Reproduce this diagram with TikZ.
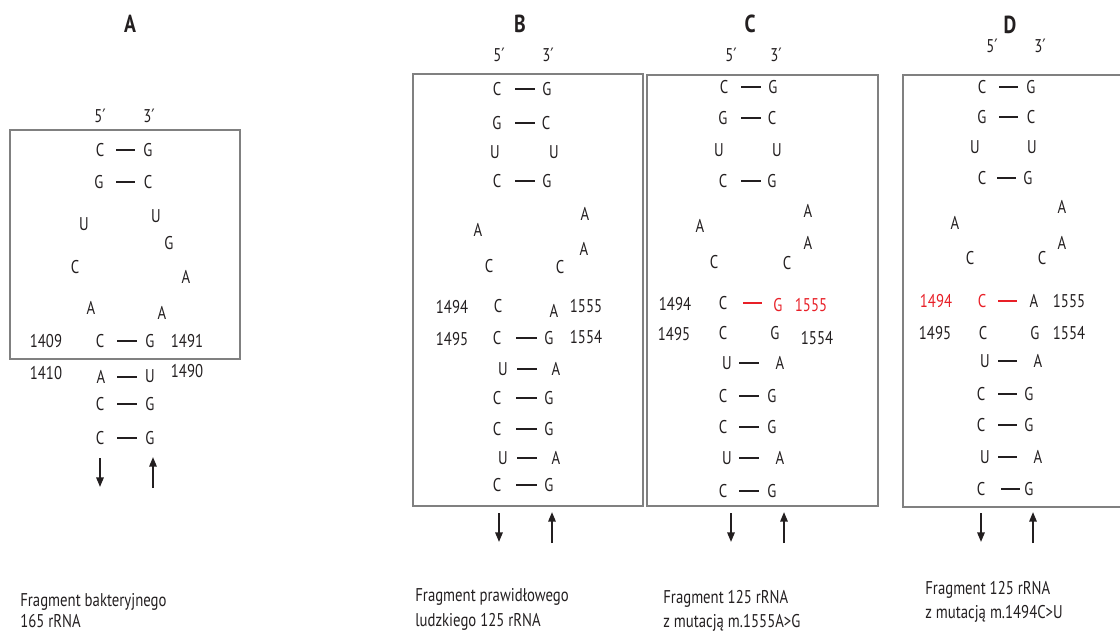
\documentclass[tikz,border=0pt]{standalone}
\usepackage{fontspec}
\setmainfont{PT Sans}[FakeStretch=0.8]
\newfontfamily\primefont{DejaVu Sans}[FakeStretch=0.8]
\usetikzlibrary{arrows.meta,calc}
\definecolor{boxgray}{RGB}{128,128,128}
\definecolor{mutred}{RGB}{232,32,40}
\definecolor{ink}{RGB}{35,31,32}
% strand-end labels with a prime
\newcommand\pr{{\primefont ′}}
% letter / label node
\newcommand\nt[5][]{\node[nt,#1] (#2) at (#3,#4) {#5};}
% base-pair bar between two letters: offsets from left centre and right centre
\newcommand\pairbar[5][]{\draw[bp,#1] ($(#2)+(#4,0)$) -- ($(#2 -| #3)+(#5,0)$);}
% strand direction arrows below a stem
\newcommand\strands[4]{%
  \coordinate (#1-d0) at (#2,#4); \coordinate (#1-d1) at (#2,#4+29);
  \coordinate (#1-u0) at (#3,#4+30); \coordinate (#1-u1) at (#3,#4-1);
  \draw[strand] (#1-d0) -- (#1-d1);
  \draw[strand] (#1-u0) -- (#1-u1);}
\begin{document}
\begin{tikzpicture}[x=0.02cm,y=-0.02cm,
  nt/.style={inner sep=0pt,text=ink,font=\fontsize{10.5}{12}\selectfont},
  ttl/.style={inner sep=0pt,text=ink,font=\bfseries\fontsize{14}{16}\selectfont},
  mut/.style={text=mutred},
  bp/.style={line width=1.5pt,draw=ink},
  strand/.style={line width=1.1pt,draw=ink,-{Triangle[length=5.5pt,width=4.2pt]}},
  frame/.style={draw=boxgray,line width=0.9pt},
  capt/.style={inner sep=0pt,anchor=base west,text=ink,font=\fontsize{10.5}{12}\selectfont}]
\useasboundingbox (0,0) rectangle (1120,630);

% ---------------- A: bacterial 16S fragment ----------------
\nt[ttl]{A-t}{130}{24}{A}
\nt{A-5}{100}{116}{5\pr}
\nt{A-3}{149}{116}{3\pr}
\draw[frame] (10,130) rectangle (240,359);
\nt{A1l}{100}{150}{C} \nt{A1r}{148}{150}{G} \pairbar{A1l}{A1r}{16}{-13}
\nt{A2l}{99}{182}{G}  \nt{A2r}{148}{182}{C} \pairbar{A2l}{A2r}{17}{-13}
\nt{A-u1}{84}{224}{U}
\nt{A-u2}{156}{216}{U}
\nt{A-g}{169}{243}{G}
\nt{A-c}{75}{267}{C}
\nt{A-a1}{186}{277}{A}
\nt{A-a2}{91}{308}{A}
\nt{A-a3}{162}{313}{A}
\nt{A-n1409}{46}{341}{1409}
\nt{A3l}{100}{341}{C} \nt{A3r}{150}{341}{G} \pairbar{A3l}{A3r}{17}{-13}
\nt{A-n1491}{187}{341}{1491}
\nt{A-n1410}{46}{373}{1410}
\nt{A4l}{101}{377}{A} \nt{A4r}{150}{376}{U} \pairbar{A4l}{A4r}{16}{-13}
\nt{A-n1490}{187}{371}{1490}
\nt{A5l}{100}{404}{C} \nt{A5r}{150}{404}{G} \pairbar{A5l}{A5r}{17}{-13}
\nt{A6l}{100}{438}{C} \nt{A6r}{150}{438}{G} \pairbar{A6l}{A6r}{17}{-13}
\strands{A}{100}{153}{458}

% ---------------- B: normal human 12S fragment ----------------
\nt[ttl]{B-t}{520}{24}{B}
\nt{B-5}{499}{55}{5\pr}
\nt{B-3}{548}{55}{3\pr}
\draw[frame] (413,74) rectangle (643,506);
\nt{B1l}{497}{89}{C}  \nt{B1r}{547}{89}{G}  \pairbar{B1l}{B1r}{18}{-12}
\nt{B2l}{497}{123}{G} \nt{B2r}{546}{123}{C} \pairbar{B2l}{B2r}{18}{-11}
\nt{B-u1}{495}{152}{U} \nt{B-u2}{554}{152}{U}
\nt{B3l}{497}{181}{C} \nt{B3r}{547}{181}{G} \pairbar{B3l}{B3r}{18}{-12}
\nt{B-a1}{478}{230}{A}
\nt{B-a2}{585}{214}{A}
\nt{B-a3}{584}{249}{A}
\nt{B-c1}{489}{266}{C}
\nt{B-c2}{560}{267}{C}
\nt{B-n1494}{452}{307}{1494}
\nt{B4l}{498}{306}{C} \nt{B4r}{554}{311}{A}
\nt{B-n1555}{586}{306}{1555}
\nt{B-n1495}{452}{339}{1495}
\nt{B5l}{497}{338}{C} \nt{B5r}{549}{338}{G} \pairbar{B5l}{B5r}{19}{-12}
\nt{B-n1554}{586}{337}{1554}
\nt{B6l}{503}{369}{U} \nt{B6r}{556}{369}{A} \pairbar{B6l}{B6r}{14}{-19}
\nt{B7l}{497}{398}{C} \nt{B7r}{549}{398}{G} \pairbar{B7l}{B7r}{19}{-12}
\nt{B8l}{497}{429}{C} \nt{B8r}{549}{429}{G} \pairbar{B8l}{B8r}{19}{-12}
\nt{B9l}{503}{458}{U} \nt{B9r}{556}{458}{A} \pairbar{B9l}{B9r}{14}{-19}
\nt{B10l}{497}{485}{C} \nt{B10r}{549}{485}{G} \pairbar{B10l}{B10r}{19}{-12}
\strands{B}{499}{552}{513}

% ---------------- C: 12S with m.1555A>G ----------------
\nt[ttl]{C-t}{750}{24}{C}
\nt{C-5}{731}{55}{5\pr}
\nt{C-3}{776}{55}{3\pr}
\draw[frame] (647,75) rectangle (878,506);
\nt{C1l}{724}{87}{C}  \nt{C1r}{773}{87}{G}  \pairbar{C1l}{C1r}{17}{-12}
\nt{C2l}{723}{118}{G} \nt{C2r}{772}{118}{C} \pairbar{C2l}{C2r}{18}{-11}
\nt{C-u1}{719}{150}{U} \nt{C-u2}{777}{150}{U}
\nt{C3l}{723}{181}{C} \nt{C3r}{772}{181}{G} \pairbar{C3l}{C3r}{18}{-11}
\nt{C-a1}{700}{226}{A}
\nt{C-a2}{808}{211}{A}
\nt{C-a3}{808}{243}{A}
\nt{C-c1}{714}{262}{C}
\nt{C-c2}{787}{263}{C}
\nt{C-n1494}{675}{304}{1494}
\nt{C4l}{723}{303}{C} \nt[mut]{C4r}{778}{305}{G} \pairbar[draw=mutred]{C4l}{C4r}{20}{-16}
\nt[mut]{C-n1555}{811}{305}{1555}
\nt{C-n1495}{674}{334}{1495}
\nt{C5l}{723}{333}{C} \nt{C5r}{775}{333}{G}
\nt{C-n1554}{817}{338}{1554}
\nt{C6l}{727}{363}{U} \nt{C6r}{780}{363}{A} \pairbar{C6l}{C6r}{12}{-21}
\nt{C7l}{723}{396}{C} \nt{C7r}{772}{396}{G} \pairbar{C7l}{C7r}{16}{-13}
\nt{C8l}{723}{427}{C} \nt{C8r}{772}{427}{G} \pairbar{C8l}{C8r}{16}{-13}
\nt{C9l}{727}{458}{U} \nt{C9r}{780}{458}{A} \pairbar{C9l}{C9r}{12}{-21}
\nt{C10l}{723}{491}{C} \nt{C10r}{772}{491}{G} \pairbar{C10l}{C10r}{16}{-13}
\strands{C}{731}{784}{513}

% ---------------- D: 12S with m.1494C>U ----------------
\nt[ttl]{D-t}{1010}{25}{D}
\nt{D-5}{992}{46}{5\pr}
\nt{D-3}{1040}{46}{3\pr}
\draw[frame] (1130,75) -- (903,75) -- (903,507) -- (1130,507);
\nt{D1l}{982}{87}{C}  \nt{D1r}{1031}{87}{G}  \pairbar{D1l}{D1r}{17}{-13}
\nt{D2l}{982}{117}{G} \nt{D2r}{1031}{117}{C} \pairbar{D2l}{D2r}{17}{-13}
\nt{D-u1}{975}{147}{U} \nt{D-u2}{1032}{147}{U}
\nt{D3l}{982}{178}{C} \nt{D3r}{1028}{178}{G} \pairbar{D3l}{D3r}{15}{-12}
\nt{D-a1}{955}{223}{A}
\nt{D-a2}{1062}{207}{A}
\nt{D-a3}{1062}{243}{A}
\nt{D-c1}{970}{258}{C}
\nt{D-c2}{1042}{258}{C}
\nt[mut]{D-n1494}{936}{301}{1494}
\nt[mut]{D4l}{982}{301}{C} \nt{D4r}{1034}{301}{A} \pairbar[draw=mutred]{D4l}{D4r}{16}{-17}
\nt{D-n1555}{1069}{301}{1555}
\nt{D-n1495}{935}{333}{1495}
\nt{D5l}{983}{333}{C} \nt{D5r}{1035}{333}{G}
\nt{D-n1554}{1069}{333}{1554}
\nt{D6l}{985}{361}{U} \nt{D6r}{1038}{361}{A} \pairbar{D6l}{D6r}{13}{-21}
\nt{D7l}{981}{394}{C} \nt{D7r}{1029}{394}{G} \pairbar{D7l}{D7r}{17}{-12}
\nt{D8l}{981}{425}{C} \nt{D8r}{1029}{425}{G} \pairbar{D8l}{D8r}{17}{-12}
\nt{D9l}{985}{457}{U} \nt{D9r}{1038}{457}{A} \pairbar{D9l}{D9r}{13}{-21}
\nt{D10l}{981}{489}{C} \nt{D10r}{1029}{489}{G} \pairbar{D10l}{D10r}{20}{-9}
\strands{D}{981}{1033}{513}

% ---------------- captions ----------------
\node[capt] (capA1) at (20,606) {Fragment bakteryjnego};
\node[capt] (capA2) at (20,627) {165 rRNA};
\node[capt] (capB1) at (415,601) {Fragment prawidłowego};
\node[capt] (capB2) at (415,626) {ludzkiego 125 rRNA};
\node[capt] (capC1) at (663,603) {Fragment 125 rRNA};
\node[capt] (capC2) at (663,627) {z mutacją m.1555A>G};
\node[capt] (capD1) at (925,594) {Fragment 125 rRNA};
\node[capt] (capD2) at (925,618) {z mutacją m.1494C>U};
\end{tikzpicture}
\end{document}
